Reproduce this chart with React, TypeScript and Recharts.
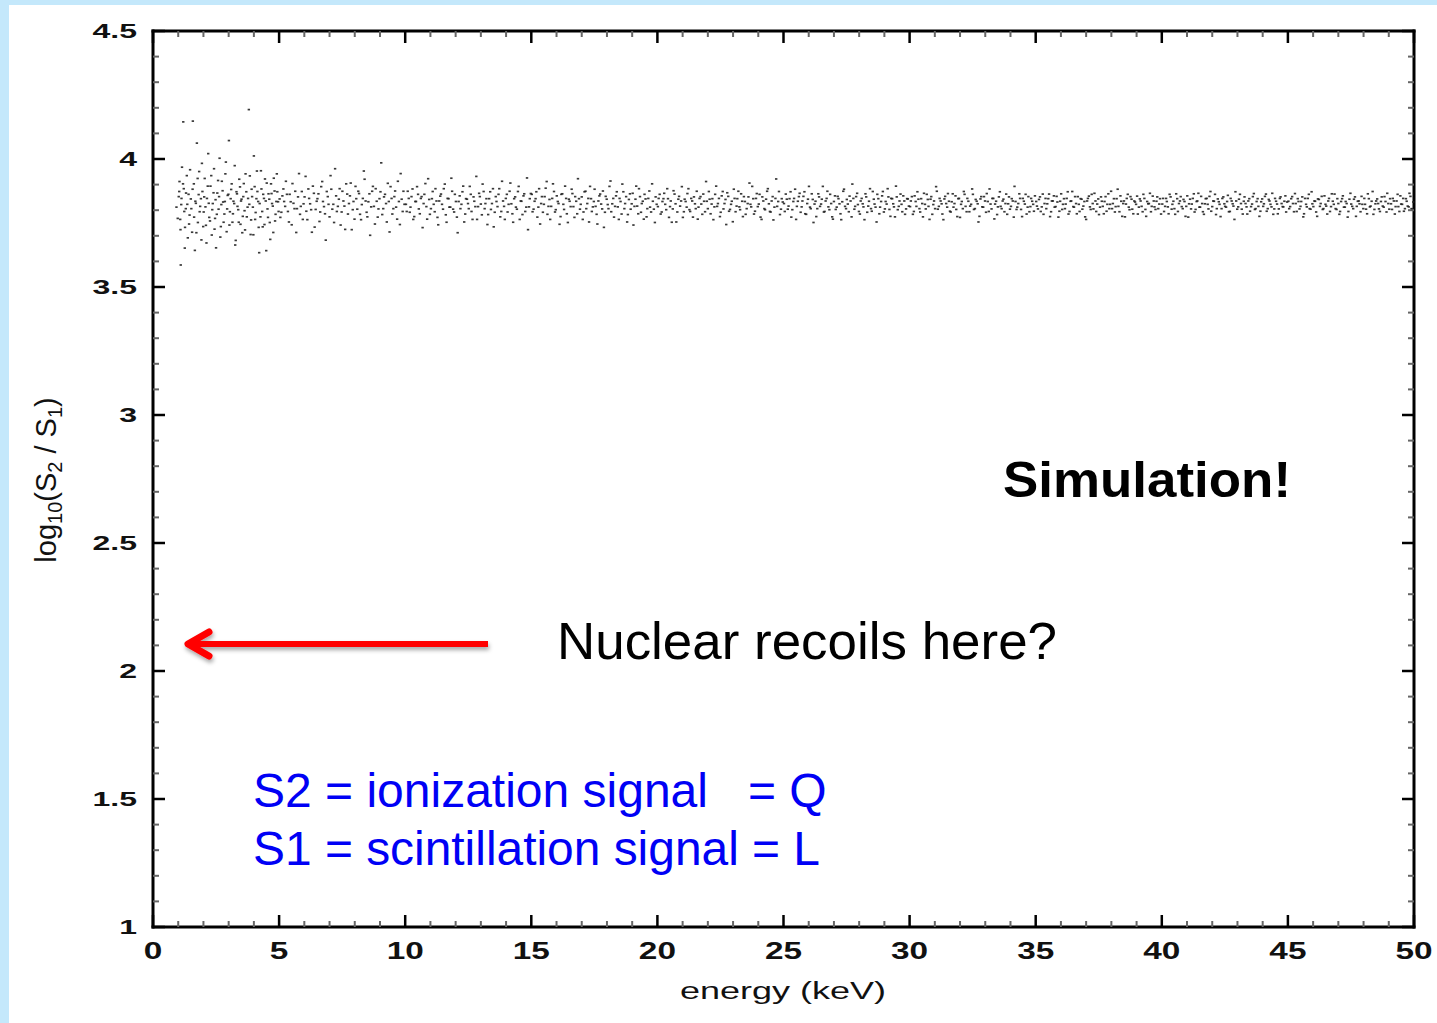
import React from 'react';
import { ScatterChart, Scatter, XAxis, YAxis } from 'recharts';

// energy (keV), log10(S2/S1), segment by segment
const band0to5: [number, number][] = [
  [1.02, 3.853], [1.05, 3.912], [1.08, 3.764], [1.1, 3.586], [1.12, 3.822], [1.15, 3.968], [1.2, 4.145],
  [1.22, 3.884], [1.27, 3.733], [1.3, 3.806], [1.34, 3.935], [1.38, 3.692], [1.41, 3.862], [1.45, 3.781],
  [1.5, 3.844], [1.55, 3.714], [1.58, 4.148], [1.62, 3.903], [1.66, 3.643], [1.7, 3.827], [1.74, 4.062],
  [1.78, 3.752], [1.83, 3.951], [1.87, 3.815], [1.92, 3.684], [1.96, 3.873], [2.01, 3.793], [2.05, 3.924],
  [2.1, 3.741], [2.14, 3.846], [2.19, 4.021], [2.23, 3.772], [2.28, 3.894], [2.33, 3.703], [2.37, 3.826],
  [2.42, 3.962], [2.46, 3.768], [2.5, 3.653], [2.55, 3.867], [2.6, 3.804], [2.64, 4.003], [2.69, 3.736],
  [2.73, 3.913], [2.78, 3.832], [2.83, 3.785], [2.87, 3.942], [2.92, 3.716], [2.96, 3.858], [3.01, 4.072],
  [3.05, 3.794], [3.1, 3.881], [3.15, 3.753], [3.19, 3.835], [3.24, 3.974], [3.28, 3.682], [3.33, 3.864],
  [3.38, 3.802], [3.42, 3.921], [3.47, 3.745], [3.51, 3.843], [3.56, 3.776], [3.6, 3.904], [3.65, 3.723],
  [3.7, 3.872], [3.75, 3.812], [3.8, 4.193], [3.84, 3.934], [3.89, 3.762], [3.93, 3.853], [3.98, 3.704],
  [4.03, 3.892], [4.07, 3.791], [4.12, 3.953], [4.17, 3.834], [4.21, 3.634], [4.26, 3.774], [4.3, 3.883],
  [4.35, 3.735], [4.4, 3.846], [4.44, 3.922], [4.49, 3.642], [4.54, 3.805], [4.58, 3.864], [4.63, 3.752],
  [4.68, 3.903], [4.72, 3.826], [4.77, 3.713], [4.82, 3.875], [4.86, 3.784], [4.91, 3.942], [4.96, 3.833],
  [0.93, 3.812], [0.98, 3.768], [1.04, 3.873], [1.09, 3.724], [1.13, 3.846], [1.19, 3.903], [1.24, 3.795],
  [1.26, 3.652], [1.31, 3.867], [1.36, 3.823], [1.43, 3.746], [1.47, 3.958], [1.52, 3.806], [1.57, 3.882],
  [1.63, 3.773], [1.68, 3.835], [1.72, 3.712], [1.77, 3.924], [1.81, 3.861], [1.85, 3.794], [1.9, 3.845],
  [1.94, 3.983], [1.99, 3.736], [2.03, 3.852], [2.08, 3.813], [2.12, 3.672], [2.17, 3.894], [2.21, 3.827],
  [2.26, 3.758], [2.31, 3.935], [2.35, 3.802], [2.4, 3.868], [2.44, 3.726], [2.48, 3.841], [2.53, 3.784],
  [2.58, 3.916], [2.62, 3.853], [2.67, 3.695], [2.71, 3.822], [2.76, 3.876], [2.8, 3.753], [2.85, 3.834],
  [2.89, 3.988], [2.94, 3.805], [2.99, 3.862], [3.03, 3.742], [3.08, 3.845], [3.12, 3.903], [3.17, 3.786],
  [3.22, 3.826], [3.26, 3.664], [3.31, 3.872], [3.35, 3.815], [3.4, 3.753], [3.45, 3.891], [3.49, 3.836],
  [3.54, 3.712], [3.58, 3.853], [3.63, 3.798], [3.67, 3.942], [3.72, 3.774], [3.77, 3.846], [3.82, 3.823],
  [3.87, 3.705], [3.91, 3.882], [3.96, 3.812], [4.0, 4.012], [4.05, 3.764], [4.1, 3.845], [4.14, 3.873],
  [4.19, 3.733], [4.23, 3.826], [4.28, 3.954], [4.33, 3.795], [4.37, 3.862], [4.42, 3.744], [4.47, 3.836],
  [4.51, 3.906], [4.56, 3.772], [4.61, 3.843], [4.65, 3.686], [4.7, 3.865], [4.75, 3.816], [4.79, 3.925],
  [4.84, 3.758], [4.89, 3.834], [4.93, 3.872], [4.98, 3.795],
];

const band5to10: [number, number][] = [
  [5.02, 3.844], [5.09, 3.792], [5.17, 3.883], [5.24, 3.815], [5.31, 3.862], [5.39, 3.754], [5.46, 3.833],
  [5.53, 3.904], [5.61, 3.806], [5.68, 3.713], [5.75, 3.852], [5.83, 3.784], [5.9, 3.873], [5.97, 3.825],
  [6.05, 3.932], [6.12, 3.763], [6.19, 3.846], [6.27, 3.802], [6.34, 3.894], [6.41, 3.734], [6.49, 3.835],
  [6.56, 3.864], [6.63, 3.793], [6.71, 3.912], [6.78, 3.814], [6.85, 3.683], [6.93, 3.853], [7.0, 3.774],
  [7.07, 3.882], [7.15, 3.823], [7.22, 3.962], [7.29, 3.795], [7.37, 3.843], [7.44, 3.742], [7.51, 3.874],
  [7.59, 3.816], [7.66, 3.903], [7.73, 3.785], [7.81, 3.856], [7.88, 3.724], [7.95, 3.834], [8.03, 3.893],
  [8.1, 3.804], [8.17, 3.865], [8.25, 3.763], [8.32, 3.846], [8.39, 3.921], [8.47, 3.792], [8.54, 3.833],
  [8.61, 3.702], [8.69, 3.874], [8.76, 3.815], [8.83, 3.884], [8.91, 3.773], [8.98, 3.845], [9.05, 3.985],
  [9.13, 3.806], [9.2, 3.862], [9.27, 3.754], [9.35, 3.834], [9.42, 3.892], [9.49, 3.785], [9.57, 3.853],
  [9.64, 3.812], [9.71, 3.913], [9.79, 3.744], [9.86, 3.843], [9.93, 3.874],
  [5.05, 3.772], [5.13, 3.856], [5.2, 3.834], [5.27, 3.913], [5.35, 3.795], [5.42, 3.862], [5.5, 3.743],
  [5.57, 3.827], [5.64, 3.874], [5.71, 3.806], [5.79, 3.943], [5.86, 3.815], [5.94, 3.764], [6.01, 3.852],
  [6.08, 3.796], [6.16, 3.883], [6.23, 3.825], [6.3, 3.714], [6.38, 3.866], [6.45, 3.803], [6.52, 3.845],
  [6.6, 3.756], [6.67, 3.892], [6.74, 3.834], [6.82, 3.786], [6.89, 3.873], [6.96, 3.823], [7.04, 3.935],
  [7.11, 3.804], [7.18, 3.752], [7.26, 3.856], [7.33, 3.815], [7.4, 3.884], [7.48, 3.793], [7.55, 3.836],
  [7.62, 3.725], [7.7, 3.863], [7.77, 3.826], [7.84, 3.906], [7.92, 3.802], [7.99, 3.765], [8.06, 3.845],
  [8.14, 3.874], [8.21, 3.784], [8.28, 3.822], [8.36, 3.953], [8.43, 3.836], [8.5, 3.774], [8.58, 3.864],
  [8.65, 3.813], [8.72, 3.893], [8.8, 3.746], [8.87, 3.835], [8.94, 3.805], [9.02, 3.872], [9.09, 3.783],
  [9.16, 3.852], [9.24, 3.826], [9.31, 3.905], [9.38, 3.715], [9.46, 3.846], [9.53, 3.806], [9.6, 3.875],
  [9.68, 3.765], [9.75, 3.834], [9.82, 3.943], [9.9, 3.795], [9.97, 3.823],
];

const band10to15: [number, number][] = [
  [10.03, 3.823], [10.1, 3.874], [10.18, 3.792], [10.25, 3.853], [10.32, 3.764], [10.4, 3.834], [10.47, 3.892],
  [10.54, 3.805], [10.62, 3.846], [10.69, 3.732], [10.76, 3.862], [10.84, 3.814], [10.91, 3.923], [10.98, 3.784],
  [11.06, 3.845], [11.13, 3.823], [11.2, 3.884], [11.28, 3.772], [11.35, 3.836], [11.42, 3.863], [11.5, 3.804],
  [11.57, 3.902], [11.64, 3.753], [11.72, 3.845], [11.79, 3.812], [11.86, 3.874], [11.94, 3.793], [12.01, 3.834],
  [12.08, 3.712], [12.16, 3.856], [12.23, 3.823], [12.3, 3.894], [12.38, 3.785], [12.45, 3.843], [12.52, 3.806],
  [12.6, 3.862], [12.67, 3.764], [12.74, 3.835], [12.82, 3.932], [12.89, 3.814], [12.96, 3.853], [13.04, 3.782],
  [13.11, 3.873], [13.18, 3.826], [13.26, 3.744], [13.33, 3.845], [13.4, 3.803], [13.48, 3.884], [13.55, 3.792],
  [13.62, 3.834], [13.7, 3.862], [13.77, 3.774], [13.84, 3.913], [13.92, 3.815], [13.99, 3.846], [14.06, 3.793],
  [14.14, 3.874], [14.21, 3.825], [14.28, 3.753], [14.36, 3.852], [14.43, 3.804], [14.5, 3.893], [14.58, 3.836],
  [14.65, 3.783], [14.72, 3.864], [14.8, 3.812], [14.87, 3.724], [14.94, 3.845],
  [10.06, 3.795], [10.14, 3.846], [10.21, 3.812], [10.29, 3.883], [10.36, 3.775], [10.43, 3.834], [10.51, 3.862],
  [10.58, 3.786], [10.65, 3.853], [10.73, 3.826], [10.8, 3.904], [10.87, 3.765], [10.95, 3.842], [11.02, 3.806],
  [11.09, 3.873], [11.17, 3.794], [11.24, 3.836], [11.31, 3.743], [11.39, 3.855], [11.46, 3.823], [11.53, 3.884],
  [11.61, 3.782], [11.68, 3.846], [11.75, 3.812], [11.83, 3.925], [11.9, 3.804], [11.97, 3.862], [12.05, 3.773],
  [12.12, 3.834], [12.19, 3.806], [12.27, 3.872], [12.34, 3.754], [12.41, 3.845], [12.49, 3.826], [12.56, 3.893],
  [12.63, 3.795], [12.71, 3.852], [12.78, 3.814], [12.85, 3.764], [12.93, 3.866], [13.0, 3.824], [13.07, 3.902],
  [13.15, 3.806], [13.22, 3.845], [13.29, 3.783], [13.37, 3.872], [13.44, 3.826], [13.51, 3.735], [13.59, 3.853],
  [13.66, 3.814], [13.73, 3.884], [13.81, 3.795], [13.88, 3.836], [13.95, 3.764], [14.03, 3.862], [14.1, 3.823],
  [14.17, 3.906], [14.25, 3.786], [14.32, 3.845], [14.39, 3.812], [14.47, 3.873], [14.54, 3.764], [14.61, 3.835],
  [14.69, 3.856], [14.76, 3.795], [14.83, 3.926], [14.91, 3.813], [14.98, 3.865],
];

const band15to20: [number, number][] = [
  [15.02, 3.862], [15.09, 3.804], [15.17, 3.845], [15.24, 3.773], [15.31, 3.884], [15.39, 3.826], [15.46, 3.792],
  [15.53, 3.853], [15.61, 3.912], [15.68, 3.815], [15.75, 3.764], [15.83, 3.846], [15.9, 3.873], [15.97, 3.802],
  [16.05, 3.834], [16.12, 3.745], [16.19, 3.862], [16.27, 3.823], [16.34, 3.894], [16.41, 3.786], [16.49, 3.843],
  [16.56, 3.814], [16.63, 3.865], [16.71, 3.772], [16.78, 3.835], [16.85, 3.923], [16.93, 3.804], [17.0, 3.852],
  [17.07, 3.793], [17.15, 3.874], [17.22, 3.826], [17.29, 3.754], [17.37, 3.845], [17.44, 3.813], [17.51, 3.882],
  [17.59, 3.784], [17.66, 3.836], [17.73, 3.863], [17.81, 3.805], [17.88, 3.733], [17.95, 3.854], [18.03, 3.822],
  [18.1, 3.893], [18.17, 3.794], [18.25, 3.846], [18.32, 3.815], [18.39, 3.872], [18.47, 3.764], [18.54, 3.834],
  [18.61, 3.902], [18.69, 3.806], [18.76, 3.853], [18.83, 3.783], [18.91, 3.864], [18.98, 3.825], [19.05, 3.742],
  [19.13, 3.843], [19.2, 3.816], [19.27, 3.884], [19.35, 3.792], [19.42, 3.835], [19.49, 3.862], [19.57, 3.774],
  [19.64, 3.846], [19.71, 3.812], [19.79, 3.903], [19.86, 3.804], [19.93, 3.852],
  [15.05, 3.794], [15.13, 3.835], [15.2, 3.872], [15.28, 3.812], [15.35, 3.746], [15.42, 3.853], [15.5, 3.823],
  [15.57, 3.886], [15.64, 3.784], [15.72, 3.842], [15.79, 3.815], [15.86, 3.903], [15.94, 3.793], [16.01, 3.856],
  [16.08, 3.826], [16.16, 3.775], [16.23, 3.864], [16.3, 3.803], [16.38, 3.846], [16.45, 3.752], [16.52, 3.835],
  [16.6, 3.882], [16.67, 3.814], [16.74, 3.853], [16.82, 3.786], [16.89, 3.845], [16.96, 3.823], [17.04, 3.764],
  [17.11, 3.872], [17.18, 3.806], [17.26, 3.846], [17.33, 3.893], [17.4, 3.795], [17.48, 3.834], [17.55, 3.815],
  [17.62, 3.746], [17.7, 3.856], [17.77, 3.824], [17.84, 3.875], [17.92, 3.792], [17.99, 3.843], [18.06, 3.806],
  [18.14, 3.914], [18.21, 3.825], [18.28, 3.773], [18.36, 3.856], [18.43, 3.813], [18.5, 3.846], [18.58, 3.785],
  [18.65, 3.872], [18.72, 3.826], [18.8, 3.754], [18.87, 3.842], [18.94, 3.804], [19.02, 3.866], [19.09, 3.815],
  [19.16, 3.894], [19.24, 3.786], [19.31, 3.853], [19.38, 3.826], [19.46, 3.765], [19.53, 3.844], [19.6, 3.806],
  [19.68, 3.875], [19.75, 3.793], [19.82, 3.835], [19.9, 3.752], [19.97, 3.823],
];

const band20to25: [number, number][] = [
  [20.02, 3.814], [20.09, 3.862], [20.17, 3.793], [20.24, 3.845], [20.31, 3.823], [20.39, 3.884], [20.46, 3.772],
  [20.53, 3.836], [20.61, 3.805], [20.68, 3.863], [20.75, 3.754], [20.83, 3.843], [20.9, 3.816], [20.97, 3.892],
  [21.05, 3.794], [21.12, 3.834], [21.19, 3.865], [21.27, 3.802], [21.34, 3.846], [21.41, 3.773], [21.49, 3.825],
  [21.56, 3.874], [21.63, 3.812], [21.71, 3.853], [21.78, 3.784], [21.85, 3.835], [21.93, 3.912], [22.0, 3.806],
  [22.07, 3.843], [22.15, 3.824], [22.22, 3.763], [22.29, 3.862], [22.37, 3.815], [22.44, 3.846], [22.51, 3.792],
  [22.59, 3.873], [22.66, 3.826], [22.73, 3.744], [22.81, 3.854], [22.88, 3.803], [22.95, 3.835], [23.03, 3.882],
  [23.1, 3.794], [23.17, 3.845], [23.25, 3.813], [23.32, 3.864], [23.39, 3.775], [23.47, 3.834], [23.54, 3.806],
  [23.61, 3.852], [23.69, 3.823], [23.76, 3.893], [23.83, 3.785], [23.91, 3.846], [23.98, 3.814], [24.05, 3.862],
  [24.13, 3.764], [24.2, 3.836], [24.27, 3.802], [24.35, 3.874], [24.42, 3.825], [24.49, 3.793], [24.57, 3.853],
  [24.64, 3.812], [24.71, 3.922], [24.79, 3.834], [24.86, 3.783], [24.93, 3.845],
  [20.05, 3.846], [20.13, 3.785], [20.2, 3.834], [20.27, 3.866], [20.35, 3.802], [20.42, 3.845], [20.5, 3.814],
  [20.57, 3.753], [20.64, 3.876], [20.72, 3.825], [20.79, 3.793], [20.86, 3.854], [20.94, 3.836], [21.01, 3.772],
  [21.08, 3.843], [21.16, 3.812], [21.23, 3.884], [21.3, 3.795], [21.38, 3.836], [21.45, 3.852], [21.52, 3.806],
  [21.6, 3.765], [21.67, 3.846], [21.74, 3.824], [21.82, 3.863], [21.89, 3.794], [21.96, 3.835], [22.04, 3.873],
  [22.11, 3.786], [22.18, 3.845], [22.26, 3.813], [22.33, 3.894], [22.4, 3.826], [22.48, 3.775], [22.55, 3.856],
  [22.62, 3.805], [22.7, 3.842], [22.77, 3.868], [22.84, 3.796], [22.92, 3.823], [22.99, 3.755], [23.06, 3.846],
  [23.14, 3.816], [23.21, 3.874], [23.28, 3.802], [23.36, 3.835], [23.43, 3.853], [23.5, 3.784], [23.58, 3.826],
  [23.65, 3.906], [23.72, 3.813], [23.8, 3.845], [23.87, 3.796], [23.94, 3.865], [24.02, 3.824], [24.09, 3.773],
  [24.16, 3.852], [24.24, 3.806], [24.31, 3.843], [24.38, 3.884], [24.46, 3.795], [24.53, 3.836], [24.6, 3.762],
  [24.68, 3.846], [24.75, 3.815], [24.82, 3.873], [24.9, 3.804], [24.97, 3.832],
];

const band25to30: [number, number][] = [
  [25.02, 3.826], [25.09, 3.863], [25.17, 3.804], [25.24, 3.845], [25.31, 3.773], [25.39, 3.834], [25.46, 3.882],
  [25.53, 3.815], [25.61, 3.853], [25.68, 3.792], [25.75, 3.836], [25.83, 3.872], [25.9, 3.784], [25.97, 3.843],
  [26.05, 3.812], [26.12, 3.864], [26.19, 3.752], [26.27, 3.835], [26.34, 3.806], [26.41, 3.852], [26.49, 3.824],
  [26.56, 3.893], [26.63, 3.795], [26.71, 3.846], [26.78, 3.813], [26.85, 3.862], [26.93, 3.774], [27.0, 3.834],
  [27.07, 3.803], [27.15, 3.854], [27.22, 3.825], [27.29, 3.763], [27.37, 3.874], [27.44, 3.815], [27.51, 3.842],
  [27.59, 3.794], [27.66, 3.836], [27.73, 3.902], [27.81, 3.804], [27.88, 3.853], [27.95, 3.822], [28.03, 3.785],
  [28.1, 3.846], [28.17, 3.813], [28.25, 3.864], [28.32, 3.792], [28.39, 3.835], [28.47, 3.806], [28.54, 3.873],
  [28.61, 3.824], [28.69, 3.754], [28.76, 3.845], [28.83, 3.812], [28.91, 3.856], [28.98, 3.793], [29.05, 3.834],
  [29.13, 3.884], [29.2, 3.803], [29.27, 3.846], [29.35, 3.825], [29.42, 3.774], [29.49, 3.852], [29.57, 3.815],
  [29.64, 3.863], [29.71, 3.794], [29.79, 3.836], [29.86, 3.805], [29.93, 3.844],
  [25.05, 3.795], [25.13, 3.843], [25.2, 3.816], [25.28, 3.872], [25.35, 3.802], [25.42, 3.846], [25.5, 3.764],
  [25.57, 3.835], [25.64, 3.866], [25.72, 3.813], [25.79, 3.854], [25.86, 3.786], [25.94, 3.826], [26.01, 3.893],
  [26.08, 3.806], [26.16, 3.842], [26.23, 3.824], [26.3, 3.775], [26.38, 3.864], [26.45, 3.815], [26.52, 3.843],
  [26.6, 3.793], [26.67, 3.836], [26.74, 3.874], [26.82, 3.802], [26.89, 3.826], [26.96, 3.765], [27.04, 3.856],
  [27.11, 3.812], [27.18, 3.845], [27.26, 3.786], [27.33, 3.833], [27.4, 3.882], [27.48, 3.806], [27.55, 3.824],
  [27.62, 3.855], [27.7, 3.774], [27.77, 3.846], [27.84, 3.815], [27.92, 3.866], [27.99, 3.795], [28.06, 3.836],
  [28.14, 3.825], [28.21, 3.763], [28.28, 3.852], [28.36, 3.816], [28.43, 3.884], [28.5, 3.796], [28.58, 3.843],
  [28.65, 3.812], [28.72, 3.862], [28.8, 3.786], [28.87, 3.834], [28.94, 3.873], [29.02, 3.805], [29.09, 3.824],
  [29.16, 3.852], [29.24, 3.776], [29.31, 3.845], [29.38, 3.813], [29.46, 3.894], [29.53, 3.802], [29.6, 3.836],
  [29.68, 3.823], [29.75, 3.856], [29.82, 3.784], [29.9, 3.845], [29.97, 3.816],
];

const band30to35: [number, number][] = [
  [30.02, 3.814], [30.09, 3.853], [30.17, 3.795], [30.24, 3.834], [30.31, 3.872], [30.39, 3.806], [30.46, 3.845],
  [30.53, 3.774], [30.61, 3.823], [30.68, 3.862], [30.75, 3.815], [30.83, 3.843], [30.9, 3.784], [30.97, 3.836],
  [31.05, 3.892], [31.12, 3.804], [31.19, 3.846], [31.27, 3.825], [31.34, 3.763], [31.41, 3.854], [31.49, 3.812],
  [31.56, 3.835], [31.63, 3.793], [31.71, 3.864], [31.78, 3.826], [31.85, 3.803], [31.93, 3.845], [32.0, 3.772],
  [32.07, 3.834], [32.15, 3.873], [32.22, 3.815], [32.29, 3.846], [32.37, 3.794], [32.44, 3.823], [32.51, 3.862],
  [32.59, 3.806], [32.66, 3.835], [32.73, 3.754], [32.81, 3.844], [32.88, 3.813], [32.95, 3.853], [33.03, 3.792],
  [33.1, 3.834], [33.17, 3.883], [33.25, 3.805], [33.32, 3.846], [33.39, 3.824], [33.47, 3.783], [33.54, 3.852],
  [33.61, 3.815], [33.69, 3.836], [33.76, 3.794], [33.83, 3.863], [33.91, 3.825], [33.98, 3.804], [34.05, 3.845],
  [34.13, 3.773], [34.2, 3.834], [34.27, 3.812], [34.35, 3.864], [34.42, 3.803], [34.49, 3.846], [34.57, 3.824],
  [34.64, 3.785], [34.71, 3.853], [34.79, 3.814], [34.86, 3.835], [34.93, 3.796],
  [30.05, 3.836], [30.13, 3.784], [30.2, 3.856], [30.27, 3.815], [30.35, 3.843], [30.42, 3.793], [30.5, 3.826],
  [30.57, 3.866], [30.64, 3.805], [30.72, 3.842], [30.79, 3.764], [30.86, 3.853], [30.94, 3.822], [31.01, 3.806],
  [31.08, 3.874], [31.16, 3.815], [31.23, 3.836], [31.3, 3.785], [31.38, 3.844], [31.45, 3.826], [31.52, 3.865],
  [31.6, 3.796], [31.67, 3.833], [31.74, 3.812], [31.82, 3.856], [31.89, 3.775], [31.96, 3.846], [32.04, 3.823],
  [32.11, 3.806], [32.18, 3.862], [32.26, 3.794], [32.33, 3.835], [32.4, 3.816], [32.48, 3.883], [32.55, 3.803],
  [32.62, 3.842], [32.7, 3.825], [32.77, 3.776], [32.84, 3.853], [32.92, 3.812], [32.99, 3.836], [33.06, 3.865],
  [33.14, 3.795], [33.21, 3.824], [33.28, 3.846], [33.36, 3.766], [33.43, 3.835], [33.5, 3.813], [33.58, 3.872],
  [33.65, 3.806], [33.72, 3.843], [33.8, 3.826], [33.87, 3.784], [33.94, 3.852], [34.02, 3.815], [34.09, 3.836],
  [34.16, 3.893], [34.24, 3.803], [34.31, 3.826], [34.38, 3.846], [34.46, 3.775], [34.53, 3.835], [34.6, 3.862],
  [34.68, 3.812], [34.75, 3.794], [34.82, 3.846], [34.9, 3.823], [34.97, 3.856],
];

const band35to40: [number, number][] = [
  [35.02, 3.834], [35.09, 3.805], [35.17, 3.852], [35.24, 3.813], [35.31, 3.784], [35.39, 3.846], [35.46, 3.825],
  [35.53, 3.863], [35.61, 3.794], [35.68, 3.836], [35.75, 3.812], [35.83, 3.854], [35.9, 3.773], [35.97, 3.835],
  [36.05, 3.803], [36.12, 3.845], [36.19, 3.824], [36.27, 3.872], [36.34, 3.795], [36.41, 3.836], [36.49, 3.814],
  [36.56, 3.853], [36.63, 3.786], [36.71, 3.823], [36.78, 3.845], [36.85, 3.804], [36.93, 3.834], [37.0, 3.764],
  [37.07, 3.846], [37.15, 3.813], [37.22, 3.862], [37.29, 3.805], [37.37, 3.836], [37.44, 3.824], [37.51, 3.783],
  [37.59, 3.852], [37.66, 3.815], [37.73, 3.834], [37.81, 3.796], [37.88, 3.864], [37.95, 3.823], [38.03, 3.806],
  [38.1, 3.845], [38.17, 3.814], [38.25, 3.882], [38.32, 3.794], [38.39, 3.835], [38.47, 3.826], [38.54, 3.774],
  [38.61, 3.846], [38.69, 3.812], [38.76, 3.853], [38.83, 3.804], [38.91, 3.836], [38.98, 3.823], [39.05, 3.785],
  [39.13, 3.844], [39.2, 3.815], [39.27, 3.862], [39.35, 3.803], [39.42, 3.834], [39.49, 3.826], [39.57, 3.794],
  [39.64, 3.855], [39.71, 3.813], [39.79, 3.835], [39.86, 3.806], [39.93, 3.845],
  [35.05, 3.816], [35.13, 3.842], [35.2, 3.795], [35.28, 3.863], [35.35, 3.826], [35.42, 3.806], [35.5, 3.845],
  [35.57, 3.775], [35.64, 3.836], [35.72, 3.856], [35.79, 3.814], [35.86, 3.832], [35.94, 3.796], [36.01, 3.864],
  [36.08, 3.823], [36.16, 3.806], [36.23, 3.846], [36.3, 3.785], [36.38, 3.835], [36.45, 3.873], [36.52, 3.812],
  [36.6, 3.826], [36.67, 3.853], [36.74, 3.795], [36.82, 3.843], [36.89, 3.816], [36.96, 3.774], [37.04, 3.836],
  [37.11, 3.855], [37.18, 3.803], [37.26, 3.826], [37.33, 3.866], [37.4, 3.795], [37.48, 3.844], [37.55, 3.812],
  [37.62, 3.835], [37.7, 3.786], [37.77, 3.853], [37.84, 3.823], [37.92, 3.806], [37.99, 3.874], [38.06, 3.826],
  [38.14, 3.793], [38.21, 3.845], [38.28, 3.815], [38.36, 3.856], [38.43, 3.776], [38.5, 3.836], [38.58, 3.824],
  [38.65, 3.862], [38.72, 3.802], [38.8, 3.843], [38.87, 3.786], [38.94, 3.832], [39.02, 3.855], [39.09, 3.812],
  [39.16, 3.836], [39.24, 3.794], [39.31, 3.846], [39.38, 3.776], [39.46, 3.825], [39.53, 3.866], [39.6, 3.815],
  [39.68, 3.836], [39.75, 3.803], [39.82, 3.852], [39.9, 3.824], [39.97, 3.785],
];

const band40to45: [number, number][] = [
  [40.02, 3.824], [40.09, 3.795], [40.17, 3.846], [40.24, 3.813], [40.31, 3.862], [40.39, 3.804], [40.46, 3.835],
  [40.53, 3.784], [40.61, 3.845], [40.68, 3.826], [40.75, 3.853], [40.83, 3.806], [40.9, 3.834], [40.97, 3.815],
  [41.05, 3.773], [41.12, 3.843], [41.19, 3.824], [41.27, 3.864], [41.34, 3.803], [41.41, 3.836], [41.49, 3.812],
  [41.56, 3.854], [41.63, 3.794], [41.71, 3.825], [41.78, 3.846], [41.85, 3.805], [41.93, 3.873], [42.0, 3.814],
  [42.07, 3.835], [42.15, 3.783], [42.22, 3.844], [42.29, 3.823], [42.37, 3.806], [42.44, 3.852], [42.51, 3.815],
  [42.59, 3.834], [42.66, 3.794], [42.73, 3.846], [42.81, 3.825], [42.88, 3.764], [42.95, 3.836], [43.03, 3.813],
  [43.1, 3.862], [43.17, 3.804], [43.25, 3.835], [43.32, 3.826], [43.39, 3.785], [43.47, 3.845], [43.54, 3.814],
  [43.61, 3.853], [43.69, 3.803], [43.76, 3.834], [43.83, 3.815], [43.91, 3.796], [43.98, 3.844], [44.05, 3.825],
  [44.13, 3.863], [44.2, 3.806], [44.27, 3.836], [44.35, 3.813], [44.42, 3.784], [44.49, 3.846], [44.57, 3.824],
  [44.64, 3.805], [44.71, 3.852], [44.79, 3.814], [44.86, 3.835], [44.93, 3.793],
  [40.05, 3.846], [40.13, 3.815], [40.2, 3.834], [40.27, 3.786], [40.35, 3.852], [40.42, 3.823], [40.5, 3.806],
  [40.57, 3.864], [40.64, 3.795], [40.72, 3.836], [40.79, 3.814], [40.86, 3.842], [40.94, 3.776], [41.01, 3.856],
  [41.08, 3.825], [41.16, 3.805], [41.23, 3.846], [41.3, 3.793], [41.38, 3.834], [41.45, 3.866], [41.52, 3.812],
  [41.6, 3.826], [41.67, 3.784], [41.74, 3.845], [41.82, 3.823], [41.89, 3.854], [41.96, 3.796], [42.04, 3.836],
  [42.11, 3.862], [42.18, 3.806], [42.26, 3.833], [42.33, 3.775], [42.4, 3.846], [42.48, 3.825], [42.55, 3.812],
  [42.62, 3.858], [42.7, 3.795], [42.77, 3.836], [42.84, 3.816], [42.92, 3.872], [42.99, 3.804], [43.06, 3.843],
  [43.14, 3.826], [43.21, 3.785], [43.28, 3.852], [43.36, 3.813], [43.43, 3.836], [43.5, 3.796], [43.58, 3.824],
  [43.65, 3.865], [43.72, 3.806], [43.8, 3.845], [43.87, 3.776], [43.94, 3.833], [44.02, 3.815], [44.09, 3.854],
  [44.16, 3.796], [44.24, 3.842], [44.31, 3.823], [44.38, 3.866], [44.46, 3.805], [44.53, 3.835], [44.6, 3.786],
  [44.68, 3.846], [44.75, 3.826], [44.82, 3.813], [44.9, 3.856], [44.97, 3.832],
];

const band45to50: [number, number][] = [
  [45.02, 3.835], [45.09, 3.814], [45.17, 3.853], [45.24, 3.794], [45.31, 3.826], [45.39, 3.845], [45.46, 3.805],
  [45.53, 3.834], [45.61, 3.774], [45.68, 3.846], [45.75, 3.813], [45.83, 3.862], [45.9, 3.804], [45.97, 3.825],
  [46.05, 3.836], [46.12, 3.793], [46.19, 3.844], [46.27, 3.815], [46.34, 3.854], [46.41, 3.806], [46.49, 3.823],
  [46.56, 3.785], [46.63, 3.846], [46.71, 3.814], [46.78, 3.835], [46.85, 3.863], [46.93, 3.803], [47.0, 3.826],
  [47.07, 3.795], [47.15, 3.845], [47.22, 3.812], [47.29, 3.834], [47.37, 3.773], [47.44, 3.843], [47.51, 3.824],
  [47.59, 3.806], [47.66, 3.852], [47.73, 3.815], [47.81, 3.836], [47.88, 3.794], [47.95, 3.823], [48.03, 3.846],
  [48.1, 3.804], [48.17, 3.864], [48.25, 3.813], [48.32, 3.835], [48.39, 3.784], [48.47, 3.825], [48.54, 3.844],
  [48.61, 3.805], [48.69, 3.834], [48.76, 3.816], [48.83, 3.853], [48.91, 3.793], [48.98, 3.826], [49.05, 3.845],
  [49.13, 3.803], [49.2, 3.836], [49.27, 3.814], [49.35, 3.862], [49.42, 3.795], [49.49, 3.824], [49.57, 3.846],
  [49.64, 3.806], [49.71, 3.835], [49.79, 3.813], [49.86, 3.854], [49.93, 3.804],
  [45.05, 3.806], [45.13, 3.845], [45.2, 3.826], [45.28, 3.865], [45.35, 3.795], [45.42, 3.834], [45.5, 3.815],
  [45.57, 3.852], [45.64, 3.786], [45.72, 3.823], [45.79, 3.846], [45.86, 3.806], [45.94, 3.872], [46.01, 3.814],
  [46.08, 3.835], [46.16, 3.776], [46.23, 3.842], [46.3, 3.826], [46.38, 3.803], [46.45, 3.856], [46.52, 3.816],
  [46.6, 3.836], [46.67, 3.795], [46.74, 3.864], [46.82, 3.823], [46.89, 3.806], [46.96, 3.845], [47.04, 3.784],
  [47.11, 3.834], [47.18, 3.856], [47.26, 3.812], [47.33, 3.826], [47.4, 3.795], [47.48, 3.866], [47.55, 3.815],
  [47.62, 3.843], [47.7, 3.776], [47.77, 3.835], [47.84, 3.825], [47.92, 3.854], [47.99, 3.806], [48.06, 3.823],
  [48.14, 3.786], [48.21, 3.845], [48.28, 3.816], [48.36, 3.873], [48.43, 3.803], [48.5, 3.836], [48.58, 3.826],
  [48.65, 3.795], [48.72, 3.852], [48.8, 3.812], [48.87, 3.834], [48.94, 3.866], [49.02, 3.804], [49.09, 3.825],
  [49.16, 3.846], [49.24, 3.785], [49.31, 3.836], [49.38, 3.814], [49.46, 3.856], [49.53, 3.823], [49.6, 3.796],
  [49.68, 3.845], [49.75, 3.816], [49.82, 3.866], [49.9, 3.806], [49.97, 3.832],
];

const xTicks = [
  0, 1, 2, 3, 4, 5, 6, 7, 8, 9, 10, 11, 12, 13, 14, 15, 16, 17, 18, 19, 20, 21, 22, 23, 24, 25,
  26, 27, 28, 29, 30, 31, 32, 33, 34, 35, 36, 37, 38, 39, 40, 41, 42, 43, 44, 45, 46, 47, 48, 49, 50,
];
const yTicks = [
  1, 1.1, 1.2, 1.3, 1.4, 1.5, 1.6, 1.7, 1.8, 1.9, 2, 2.1, 2.2, 2.3, 2.4, 2.5, 2.6, 2.7, 2.8, 2.9,
  3, 3.1, 3.2, 3.3, 3.4, 3.5, 3.6, 3.7, 3.8, 3.9, 4, 4.1, 4.2, 4.3, 4.4, 4.5,
];

const points = [
  ...band0to5, ...band5to10, ...band10to15, ...band15to20, ...band20to25,
  ...band25to30, ...band30to35, ...band35to40, ...band40to45, ...band45to50,
].map(([e, r]) => ({ e, r }));

const FONT = '"Liberation Sans", Arial, Helvetica, sans-serif';
const W = 1437;
const H = 1023;

const majorX = (v: number) => v % 5 === 0;
const majorY = (v: number) => Math.abs(v * 2 - Math.round(v * 2)) < 1e-6;

const tickStroke = (major: boolean) => ({
  stroke: major ? '#000' : '#666',
  strokeWidth: major ? 2.5 : 2,
});

const BottomTick = (props: any) => {
  const { x, y, payload } = props;
  const major = majorX(payload.value);
  return (
    <g>
      <line x1={x} x2={x} y1={y} y2={y - (major ? 12 : 6)} {...tickStroke(major)} />
      {major && (
        <text
          transform={`translate(${x},${y + 32}) scale(1.45,1)`}
          textAnchor="middle"
          fontSize={23}
          fontWeight="bold"
          fontFamily={FONT}
          fill="#111"
        >
          {payload.value}
        </text>
      )}
    </g>
  );
};

const TopTick = (props: any) => {
  const { x, y, payload } = props;
  const major = majorX(payload.value);
  return <line x1={x} x2={x} y1={y} y2={y + (major ? 12 : 6)} {...tickStroke(major)} />;
};

const LeftTick = (props: any) => {
  const { x, y, payload } = props;
  const major = majorY(payload.value);
  return (
    <g>
      <line x1={x} x2={x + (major ? 12 : 6)} y1={y} y2={y} {...tickStroke(major)} />
      {major && (
        <text
          transform={`translate(${x - 16},${y + 7}) scale(1.6,1)`}
          textAnchor="end"
          fontSize={20}
          fontWeight="bold"
          fontFamily={FONT}
          fill="#111"
        >
          {payload.value}
        </text>
      )}
    </g>
  );
};

const RightTick = (props: any) => {
  const { x, y, payload } = props;
  const major = majorY(payload.value);
  return <line x1={x} x2={x - (major ? 12 : 6)} y1={y} y2={y} {...tickStroke(major)} />;
};

const Dot = (props: any) => (
  <rect x={props.cx - 1.2} y={props.cy - 0.85} width={2.4} height={1.7} fill="#222" fillOpacity={0.9} />
);

const NoDot = () => <g />;

const frame = { stroke: '#000', strokeWidth: 3, strokeLinecap: 'square' as const };

export default function App() {
  return (
    <div style={{ position: 'absolute', left: 0, top: 0, width: W, height: H, background: '#c4e8fb', overflow: 'hidden' }}>
      <div style={{ position: 'absolute', left: 9, top: 5, width: W - 9, height: H - 5, background: '#fff' }} />
      <div style={{ position: 'absolute', left: 0, top: 0 }}>
        <ScatterChart width={W} height={H} margin={{ top: 30, right: 22, bottom: 0, left: 0 }}>
          <XAxis
            type="number"
            dataKey="e"
            domain={[0, 50]}
            ticks={xTicks}
            interval={0}
            height={96}
            axisLine={frame}
            tickLine={false}
            tickSize={0}
            tickMargin={0}
            tick={<BottomTick />}
          />
          <XAxis
            xAxisId="top"
            orientation="top"
            type="number"
            dataKey="e"
            domain={[0, 50]}
            ticks={xTicks}
            interval={0}
            height={1}
            axisLine={frame}
            tickLine={false}
            tickSize={0}
            tickMargin={0}
            tick={<TopTick />}
          />
          <YAxis
            type="number"
            dataKey="r"
            domain={[1, 4.5]}
            ticks={yTicks}
            interval={0}
            width={153}
            axisLine={frame}
            tickLine={false}
            tickSize={0}
            tickMargin={0}
            tick={<LeftTick />}
          />
          <YAxis
            yAxisId="right"
            orientation="right"
            type="number"
            dataKey="r"
            domain={[1, 4.5]}
            ticks={yTicks}
            interval={0}
            width={1}
            axisLine={frame}
            tickLine={false}
            tickSize={0}
            tickMargin={0}
            tick={<RightTick />}
          />
          <Scatter data={points} shape={<Dot />} isAnimationActive={false} />
          <Scatter data={points} xAxisId="top" yAxisId="right" shape={<NoDot />} isAnimationActive={false} />
        </ScatterChart>
      </div>
      <svg width={W} height={H} style={{ position: 'absolute', left: 0, top: 0, pointerEvents: 'none' }}>
        <defs>
          <filter id="arrowShadow" x="-10%" y="-50%" width="120%" height="200%">
            <feDropShadow dx="1" dy="3" stdDeviation="2" floodColor="#000" floodOpacity="0.35" />
          </filter>
        </defs>
        <text
          transform="translate(783,990) scale(1.5,1)"
          textAnchor="middle"
          fontSize={24}
          fontFamily={FONT}
          fill="#111"
          dominantBaseline="central"
        >
          energy (keV)
        </text>
        <text
          transform="translate(56,480) rotate(-90)"
          textAnchor="middle"
          fontSize={29}
          fontFamily={FONT}
          fill="#111"
        >
          log<tspan fontSize={20} dy={6}>10</tspan>
          <tspan dy={-6}>(S</tspan>
          <tspan fontSize={20} dy={6}>2</tspan>
          <tspan dy={-6}> / S</tspan>
          <tspan fontSize={20} dy={6}>1</tspan>
          <tspan dy={-6}>)</tspan>
        </text>
        <text x={1003} y={497} fontSize={50} fontWeight="bold" fontFamily={FONT} fill="#000" textLength={288} lengthAdjust="spacingAndGlyphs">
          Simulation!
        </text>
        <text x={557} y={659} fontSize={52} fontFamily={FONT} fill="#000" textLength={500} lengthAdjust="spacingAndGlyphs">
          Nuclear recoils here?
        </text>
        <text x={253} y={807} fontSize={48} fontFamily={FONT} fill="#0000f5">
          S2 = ionization signal
        </text>
        <text x={748} y={807} fontSize={48} fontFamily={FONT} fill="#0000f5">
          = Q
        </text>
        <text x={253} y={865} fontSize={48} fontFamily={FONT} fill="#0000f5" textLength={567} lengthAdjust="spacingAndGlyphs">
          S1 = scintillation signal = L
        </text>
        <g filter="url(#arrowShadow)" stroke="#ff0000" fill="none">
          <line x1={488} y1={644} x2={192} y2={644} strokeWidth={6} />
          <polyline points="209,632 188,644 209,656" strokeWidth={7} strokeLinecap="round" strokeLinejoin="round" />
        </g>
      </svg>
    </div>
  );
}
